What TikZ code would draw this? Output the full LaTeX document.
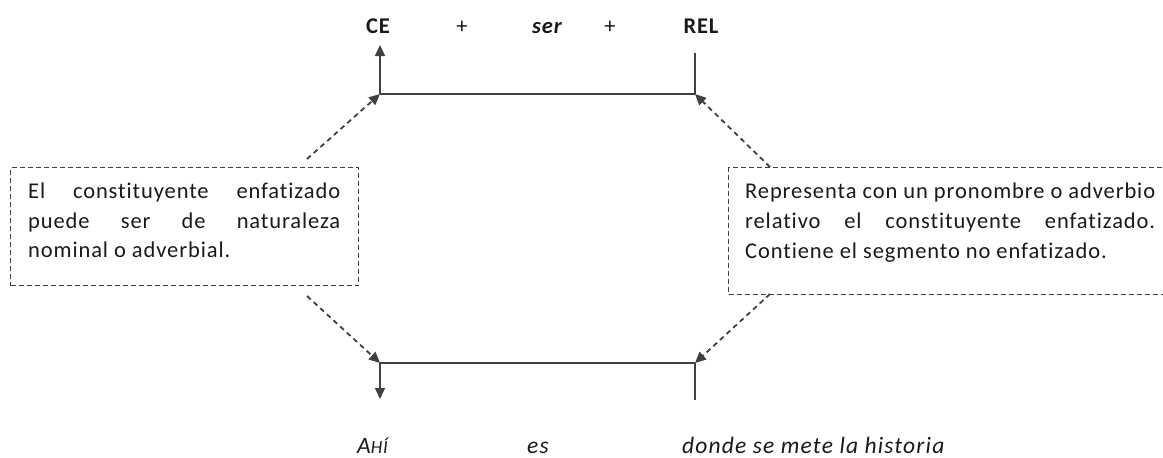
\documentclass[tikz,border=0pt]{standalone}
\usepackage{fontspec}
\setmainfont{Carlito}[LetterSpace=4,Ligatures=NoCommon]
\newfontfamily\itfont{Carlito}[LetterSpace=5,Ligatures=NoCommon]
\usetikzlibrary{arrows.meta}
\definecolor{ink}{HTML}{1A1A1A}
\definecolor{ln}{HTML}{404040}
\begin{document}
\begin{tikzpicture}[x=1pt,y=-1pt,
  txt/.style={inner sep=0pt, anchor=base, text=ink, font=\fontsize{22.5}{26}\selectfont},
  bottxt/.style={inner sep=0pt, anchor=base, text=ink, font=\itfont\itshape\fontsize{23.5}{26}\selectfont},
  boxtxt/.style={inner sep=0pt, anchor=base west, text=ink, font=\fontsize{22.5}{29}\selectfont},
  dbox/.style={draw=ln, line width=1.2pt, dash pattern=on 5pt off 3pt, rectangle, inner sep=0pt, anchor=north west},
  solid line/.style={draw=ln, line width=1.4pt},
  tip/.style={-{Triangle[length=11pt,width=10pt]}},
  darrow/.style={draw=ln, line width=1.8pt, dash pattern=on 5pt off 4pt, -{Triangle[length=11pt,width=10pt]}}
]
\useasboundingbox (0,0) rectangle (1163,458);

% top labels
\node[txt] (ce) at (378,33) {\bfseries CE};
\node[txt] (p1) at (462,33) {+};
\node[txt] (ser) at (547,33) {\bfseries\itshape ser};
\node[txt] (p2) at (610,33) {+};
\node[txt] (rel) at (701,33) {\bfseries REL};

% top structure
\coordinate (tl) at (380,94);
\coordinate (tr) at (695,94);
\coordinate (tlup) at (380,45);
\coordinate (trup) at (695,53);
\draw[solid line] (tl) -- (tr);
\draw[solid line, tip] (tl) -- (tlup);
\draw[solid line] (tr) -- (trup);

% bottom structure
\coordinate (bl) at (380,363);
\coordinate (br) at (695,363);
\coordinate (bldn) at (380,399);
\coordinate (brdn) at (695,400);
\draw[solid line] (bl) -- (br);
\draw[solid line, tip] (bl) -- (bldn);
\draw[solid line] (br) -- (brdn);

% boxes
\node[dbox, minimum width=348pt, minimum height=118pt] (lbox) at (10,167) {};
\node[dbox, minimum width=445pt, minimum height=127pt] (rbox) at (728,167) {};

\node[boxtxt] (l1) at (28,198) {\makebox[312pt][s]{El constituyente enfatizado}};
\node[boxtxt] (l2) at (28,228) {\makebox[312pt][s]{puede ser de naturaleza}};
\node[boxtxt] (l3) at (28,257) {nominal o adverbial.};

\node[boxtxt] (r1) at (745,198) {\makebox[410pt][s]{Representa con un pronombre o adverbio}};
\node[boxtxt] (r2) at (745,228) {\makebox[410pt][s]{relativo el constituyente enfatizado.}};
\node[boxtxt] (r3) at (745,258) {Contiene el segmento no enfatizado.};

% dashed arrows
\coordinate (lt) at (307,159);
\coordinate (lb) at (307,296);
\coordinate (rt) at (770,167);
\coordinate (rb) at (770,294);
\draw[darrow] (lt) -- (tl);
\draw[darrow] (lb) -- (bl);
\draw[darrow] (rt) -- (tr);
\draw[darrow] (rb) -- (br);

% bottom labels
\node[bottxt, anchor=base west] (ahi) at (357,453) {A{\fontsize{18.5}{20}\selectfont HÍ}};
\node[bottxt] (es) at (538,453) {es};
\node[bottxt, anchor=base west] (donde) at (682,453) {donde se mete la historia};
\end{tikzpicture}
\end{document}
